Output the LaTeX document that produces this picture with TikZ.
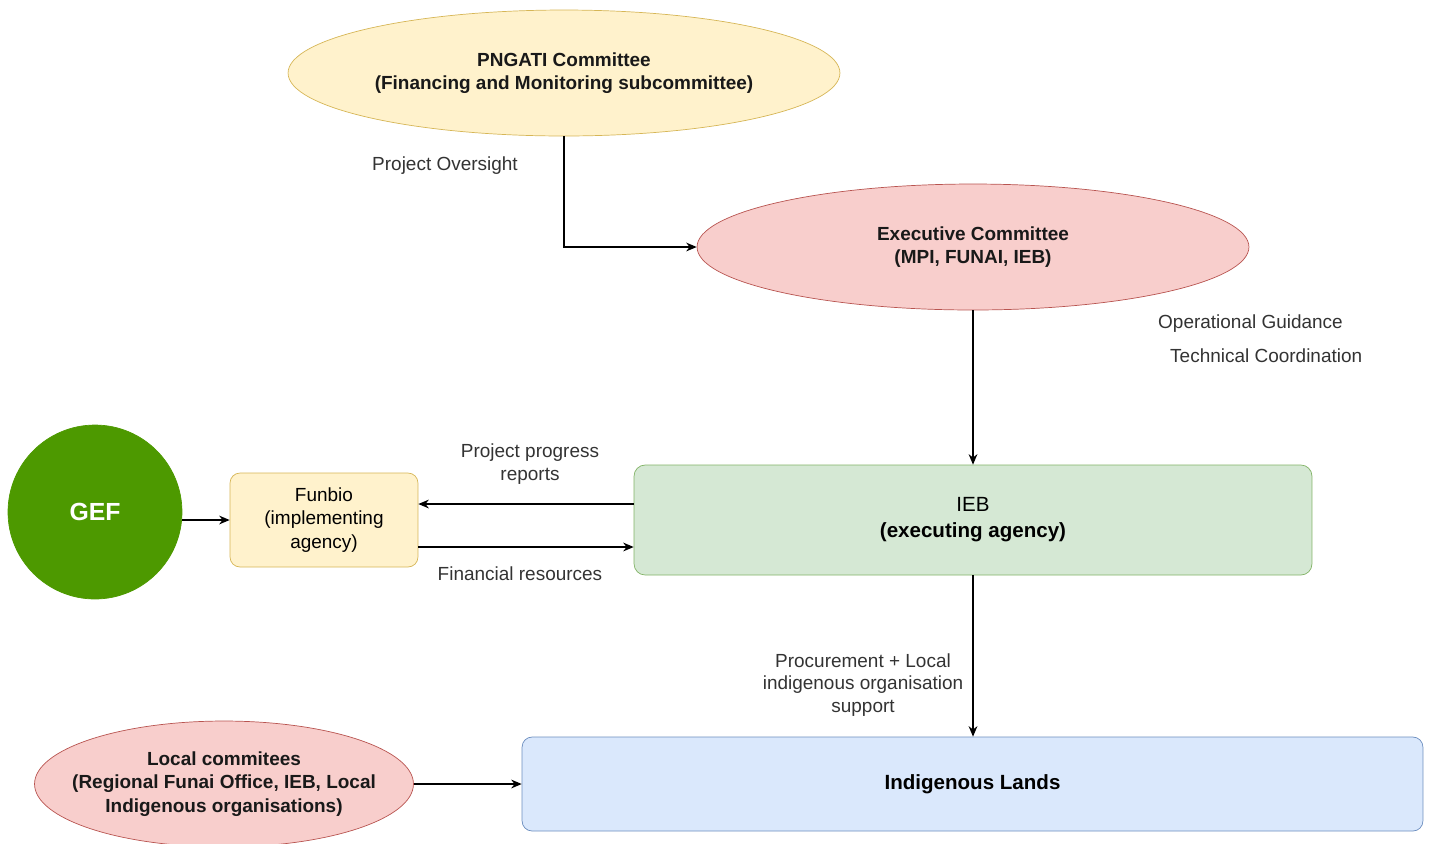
\documentclass[tikz,border=0pt]{standalone}
\usepackage{fontspec}
\setmainfont{Liberation Sans}
\usetikzlibrary{shapes.geometric, arrows.meta, positioning}
\definecolor{softyellow}{HTML}{FFF2CC}
\definecolor{yellowline}{HTML}{D6B656}
\definecolor{softred}{HTML}{F8CECC}
\definecolor{redline}{HTML}{B85450}
\definecolor{softgreen}{HTML}{D5E8D4}
\definecolor{greenline}{HTML}{82B366}
\definecolor{softblue}{HTML}{DAE8FC}
\definecolor{blueline}{HTML}{6C8EBF}
\definecolor{geffill}{HTML}{4D9900}
\definecolor{labelgrey}{HTML}{333333}
\newcommand{\txtnormal}{\fontsize{10.8}{13.4}\selectfont}
\newcommand{\txtlarge}{\fontsize{11.7}{14.8}\selectfont}

\begin{document}
\begin{tikzpicture}[
	x=0.02cm, y=-0.02cm,
	>={Stealth[length=6pt, width=5pt]},
	font=\txtnormal,
	% Styles for the bodies
	yellowellipse/.style={ellipse, draw=yellowline, fill=softyellow, thin, minimum width=11.04cm, minimum height=2.52cm, inner sep=0pt},
	redellipse/.style={ellipse, draw=redline, fill=softred, thin, inner sep=0pt, minimum height=2.52cm},
	greenbox/.style={draw=greenline, fill=softgreen, thin, rounded corners=0.22cm},
	yellowbox/.style={draw=yellowline, fill=softyellow, thin, rounded corners=0.2cm, align=center},
	bluebox/.style={draw=blueline, fill=softblue, thin, rounded corners=0.2cm},
	gefcircle/.style={circle, fill=geffill, draw=geffill, minimum size=3.48cm, text=white, font=\fontsize{14.1}{16}\selectfont\bfseries},
	% Styles for text and connectors
	bodytext/.style={align=center, text=black!90, font=\txtnormal\bfseries},
	labeltext/.style={align=center, text=labelgrey, font=\txtnormal},
	link/.style={->, line width=0.7pt, black}
	]
	
	\useasboundingbox (0,0) rectangle (1432,843);
	
	% ==========================================
	% TOP: COMMITTEES
	% ==========================================
	\node[yellowellipse, bodytext] (pngati) at (564,73) {PNGATI Committee\\(Financing and Monitoring subcommittee)};
	\node[redellipse, bodytext, minimum width=11.04cm] (exec) at (973,247) {Executive Committee\\(MPI, FUNAI, IEB)};
	
	\node[labeltext] (oversight) at (445,166) {Project Oversight};
	\node[labeltext, anchor=west] (guidance) at (1152,324) {Operational Guidance};
	\node[labeltext, anchor=west] (coordination) at (1164,356) {Technical Coordination};
	
	% ==========================================
	% MIDDLE: GEF, FUNBIO, IEB
	% ==========================================
	\node[gefcircle] (gef) at (95,512) {GEF};
	\node[yellowbox, minimum width=3.76cm, minimum height=1.88cm] (funbio) at (324,520) {Funbio\\(implementing\\agency)};
	\node[greenbox, minimum width=13.56cm, minimum height=2.2cm, align=center, font=\txtlarge] (ieb) at (973,520) {IEB\\\textbf{(executing agency)}};
	
	\node[labeltext] (reports) at (530,464) {Project progress\\reports};
	\node[labeltext] (resources) at (520,574) {Financial resources};
	
	% ==========================================
	% BOTTOM: LOCAL LEVEL
	% ==========================================
	\node[redellipse, minimum width=7.58cm] (local) at (224,784) {};
	\node[bodytext] (localtext) at (local.center) {Local commitees\\(Regional Funai Office, IEB, Local\\Indigenous organisations)};
	\node[bluebox, minimum width=18.02cm, minimum height=1.88cm, font=\txtlarge\bfseries] (lands) at (972.5,784) {Indigenous Lands};
	
	\node[labeltext, font=\fontsize{10.8}{12.9}\selectfont] (procurement) at (863,685) {Procurement + Local\\indigenous organisation\\support};
	
	% ==========================================
	% CONNECTORS
	% ==========================================
	\draw[link] (pngati.south) |- (exec.west);
	\draw[link] (exec.south) -- (ieb.north);
	\draw[link] (gef.east |- funbio.west) -- (funbio.west);
	\draw[link] ([yshift=0.32cm]ieb.west) -- ([yshift=0.32cm]funbio.east);
	\draw[link] ([yshift=-0.54cm]funbio.east) -- ([yshift=-0.54cm]ieb.west);
	\draw[link] (ieb.south) -- (ieb.south |- lands.north);
	\draw[link] (local.east) -- (lands.west);
	
\end{tikzpicture}
\end{document}
